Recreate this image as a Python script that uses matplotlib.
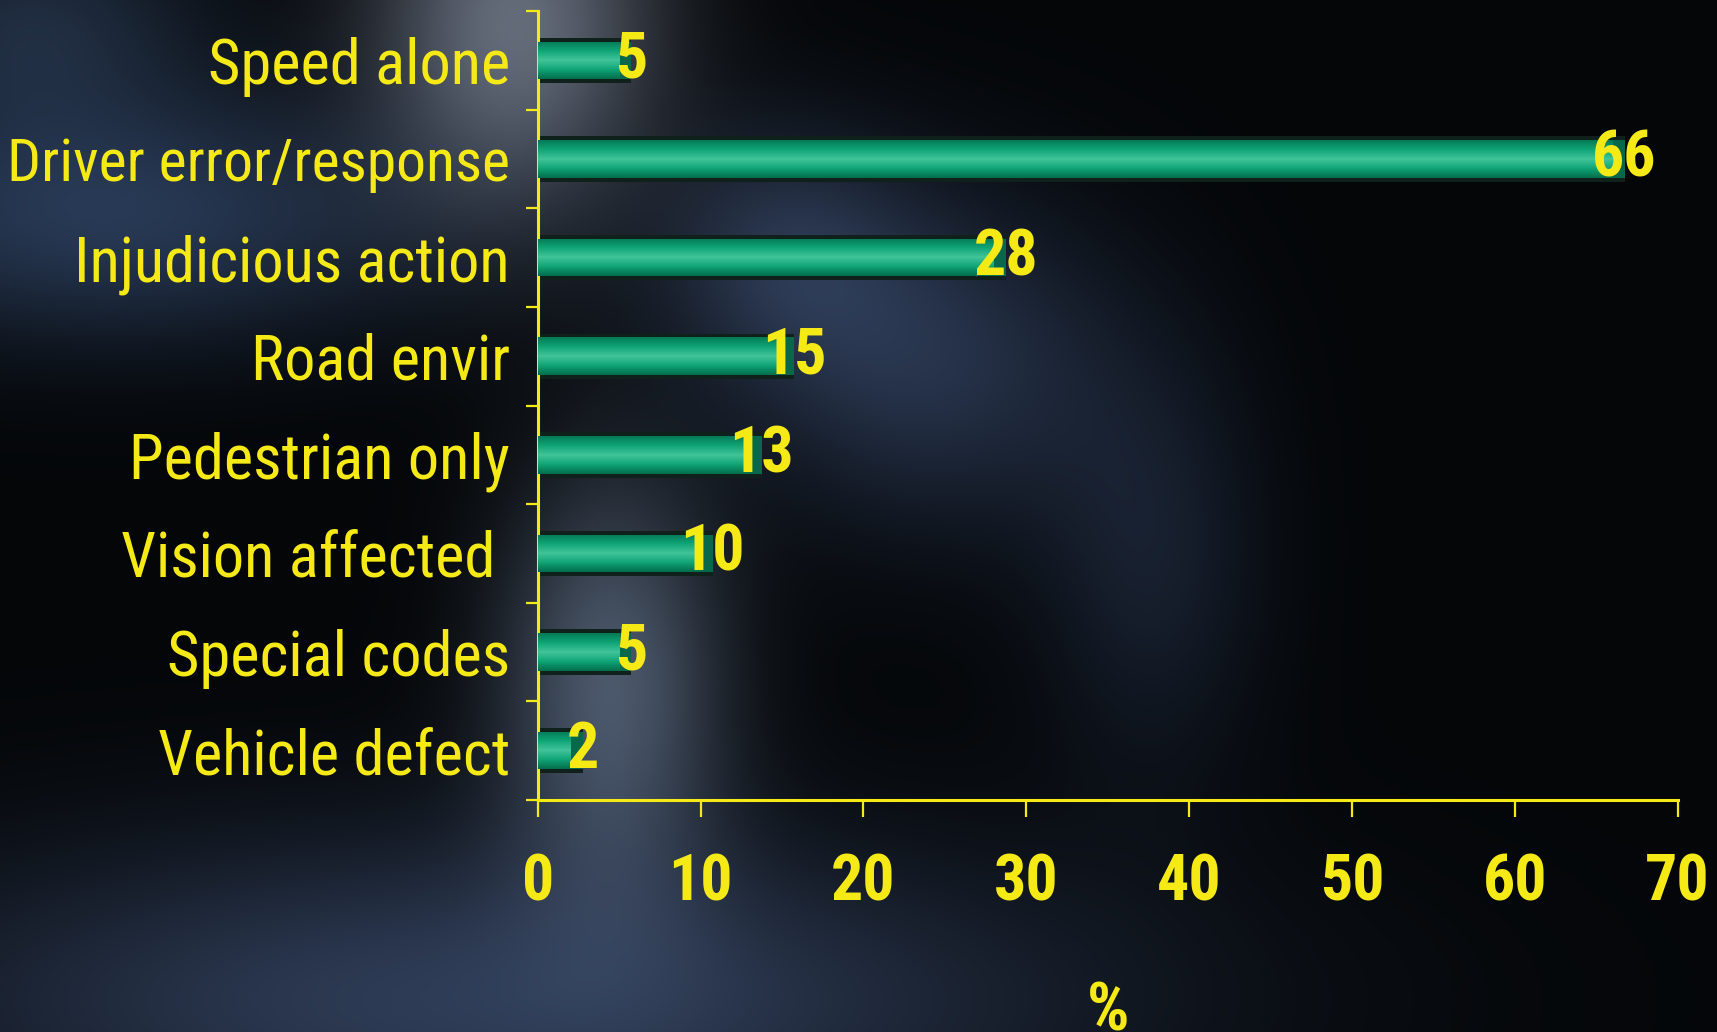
import numpy as np
import matplotlib
matplotlib.use('Agg')
import matplotlib.pyplot as plt
from matplotlib.colors import LinearSegmentedColormap

plt.rcParams['font.family'] = ['Roboto Condensed', 'Archivo Narrow', 'IBM Plex Sans Condensed', 'DejaVu Sans']

categories = ['Speed alone', 'Driver error/response', 'Injudicious action', 'Road envir',
              'Pedestrian only', 'Vision affected ', 'Special codes', 'Vehicle defect']
values = [5, 66, 28, 15, 13, 10, 5, 2]
xticks = [0, 10, 20, 30, 40, 50, 60, 70]

yellow = '#f6ea16'

fig = plt.figure(figsize=(17.17, 10.32), dpi=100)

# blurred photo-like background
H, W = 1032, 1717
yy, xx = np.mgrid[0:H, 0:W] / 1.0
img = np.zeros((H, W, 3)) + np.array([4, 6, 8])
blobs = [
    # cx, cy, sx, sy, rgb   (pixel coords)
    (515, 20, 100, 130, (95, 100, 112)),
    (110, 215, 230, 90, (35, 50, 75)),
    (30, 20, 120, 80, (25, 35, 50)),
    (610, 680, 80, 150, (70, 80, 96)),
    (480, 1000, 430, 120, (42, 54, 78)),
    (930, 360, 130, 120, (32, 42, 62)),
    (780, 250, 90, 90, (28, 36, 52)),
    (1150, 560, 80, 150, (18, 24, 36)),
]
for cx, cy, sx, sy, c in blobs:
    g = np.exp(-((xx - cx) ** 2 / (2 * sx ** 2) + (yy - cy) ** 2 / (2 * sy ** 2)))
    img += g[..., None] * np.array(c)
img = np.clip(img, 0, 255) / 255.0
bg = fig.add_axes([0, 0, 1, 1], zorder=0)
bg.imshow(img, aspect='auto', interpolation='bilinear')
bg.axis('off')

ax = fig.add_axes([0.3132, 0.2248, 0.6638, 0.7645], zorder=1)
ax.patch.set_alpha(0)

n = len(categories)
ypos = np.arange(n)[::-1] + 0.5

# bar outline / shadow and darker end cap
ax.barh(ypos, np.array(values) + 0.75, height=0.46, color='#10201b', zorder=2)
ax.barh(ypos, 0.75, left=values, height=0.38, color='#08684b', zorder=3)

grad = LinearSegmentedColormap.from_list('g', ['#047a55', '#0fa577', '#42c49a', '#0fa577', '#036e4c'])
bars = ax.barh(ypos, values, height=0.38, color='none', zorder=4)
gimg = np.linspace(0, 1, 64).reshape(-1, 1)
for b in bars:
    x0, y0 = b.get_x(), b.get_y()
    im = ax.imshow(gimg, cmap=grad, aspect='auto', extent=(x0, x0 + b.get_width(), y0, y0 + b.get_height()),
                   zorder=4, interpolation='bilinear')
    im.set_clip_path(b)

for yv, v in zip(ypos, values):
    ax.text(v + 0.75, yv, str(v), color=yellow, fontsize=46, fontweight='bold',
            va='center', ha='center', zorder=5)

ax.set_xlim(0, 70)
ax.set_ylim(0, n)
ax.set_xticks(xticks)
ax.set_xticklabels([str(t) for t in xticks], fontsize=46, fontweight='bold', color=yellow)
ax.set_yticks(np.arange(n + 1))
ax.set_yticklabels([])
ax.set_yticks(ypos, minor=True)
ax.set_yticklabels(categories, minor=True, fontsize=45, color=yellow)
for lbl in ax.get_yticklabels(minor=True):
    if lbl.get_text().startswith('Driver'):
        lbl.set_fontsize(43)  # longest label, keep inside the figure
ax.tick_params(axis='y', which='minor', length=0, pad=20)
ax.tick_params(axis='y', which='major', length=9, width=1.6, color=yellow)
ax.tick_params(axis='x', length=12, width=1.6, color=yellow, pad=26)

for s in ['top', 'right']:
    ax.spines[s].set_visible(False)
for s in ['left', 'bottom']:
    ax.spines[s].set_color(yellow)
    ax.spines[s].set_linewidth(2.2)

ax.set_xlabel('%', fontsize=48, fontweight='bold', color=yellow, labelpad=48)

fig.savefig('out.png', dpi=100)
